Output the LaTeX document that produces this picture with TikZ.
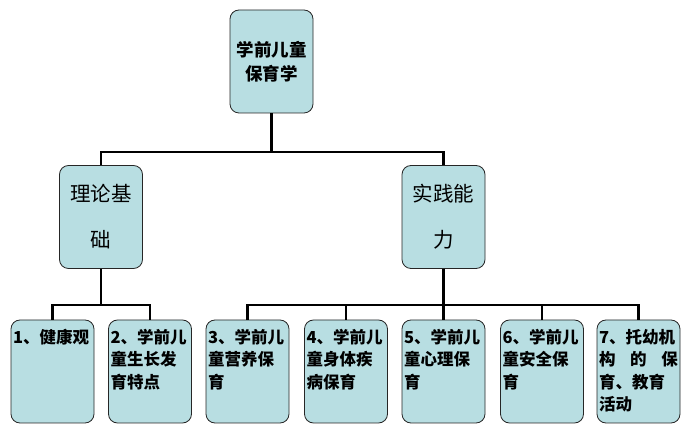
\documentclass[tikz,border=0pt]{standalone}
\usepackage{fontspec}
\newfontfamily\cjk{Noto Sans CJK SC}
\definecolor{boxblue}{RGB}{184,222,226}
\tikzset{
  box/.style={draw=black!85, fill=boxblue, rounded corners=9pt, line width=0.8pt,
    minimum width=83pt, minimum height=103pt, inner sep=0pt, font=\cjk},
  conn/.style={line width=2.6pt},
}
\newcommand\leaftxt[1]{\parbox[c][97pt][t]{79pt}{\fontsize{16.5}{22.5}\selectfont\bfseries\vspace*{6pt}#1}}
\begin{document}
\begin{tikzpicture}[x=1pt,y=-1pt]
  \useasboundingbox (0,0) rectangle (683,435);
  % top level
  \node[box, align=center, font=\cjk\fontsize{17.5}{24}\selectfont\bfseries] (root) at (271.5,61.5)
    {学前儿童\\保育学};
  \node[box, align=center, font=\cjk\fontsize{20.5}{46}\selectfont] (theory) at (101,217)
    {理论基\\础};
  \node[box, align=center, font=\cjk\fontsize{20.5}{46}\selectfont] (practice) at (443.5,217)
    {实践能\\力};
  % leaves
  \foreach \i/\x/\t in {1/52.5/{1、健康观},
      2/150/{2、学前儿\\童生长发\\育特点},
      3/247.5/{3、学前儿\\童营养保\\育},
      4/346/{4、学前儿\\童身体疾\\病保育},
      5/443.5/{5、学前儿\\童心理保\\育},
      6/542/{6、学前儿\\童安全保\\育},
      7/638.5/{7、托幼机\\\makebox[79pt][s]{构\hfill 的\hfill 保}\\育、教育\\活动}}
    \node[box] (n\i) at (\x,371.5) {\leaftxt{\t}};
  % connectors
  \coordinate (j0) at (271.5,152);
  \coordinate (j1) at (101,305);
  \coordinate (j2) at (443.5,305);
  \draw[conn] (root.south) -- (j0);
  \draw[conn] (theory.north) |- (j0) -| (practice.north);
  \draw[conn] (theory.south) -- (j1);
  \draw[conn] (n1.north) |- (j1) -| (n2.north);
  \draw[conn] (practice.south) -- (n5.north);
  \draw[conn] (n3.north) |- (j2) -| (n7.north);
  \draw[conn] (n4.north) -- (n4.north |- j2);
  \draw[conn] (n6.north) -- (n6.north |- j2);
\end{tikzpicture}
\end{document}
